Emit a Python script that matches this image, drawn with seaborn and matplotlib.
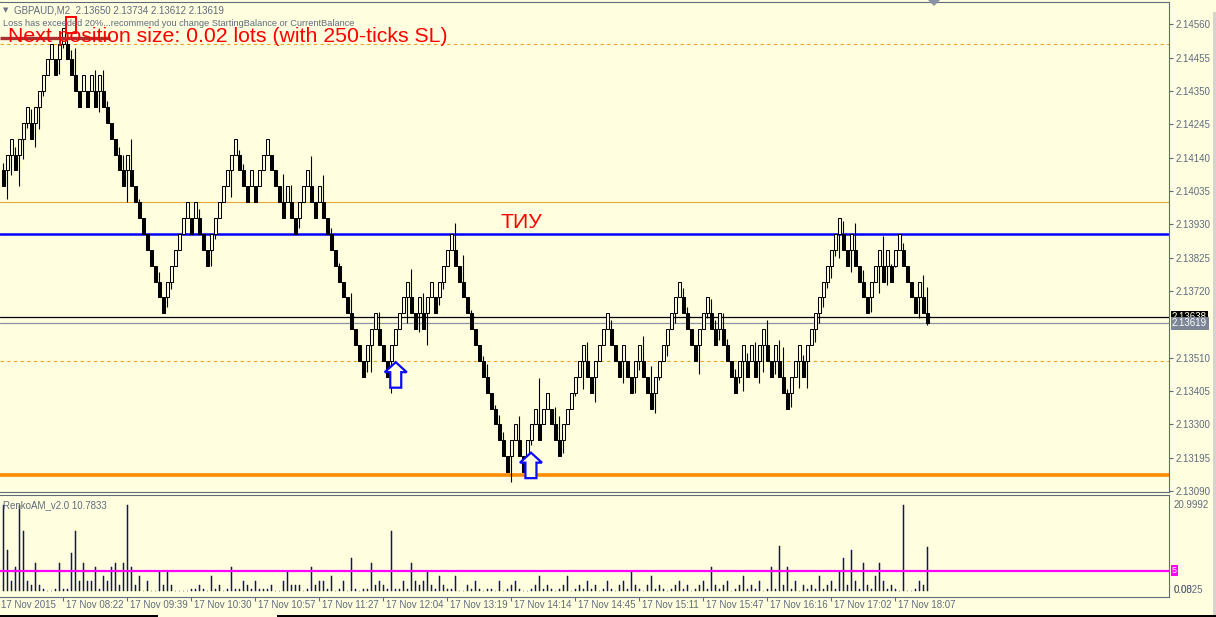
import numpy as np
import matplotlib
matplotlib.use("Agg")
import matplotlib.pyplot as plt
import matplotlib.transforms as mtransforms
from matplotlib.patches import Polygon, Rectangle
import seaborn as sns

# ---------------- data ----------------
symbol_header = "GBPAUD,M2  2.13650 2.13734 2.13612 2.13619"
warning_text = "Loss has exceeded 20%...recommend you change StartingBalance or CurrentBalance"
size_text = "Next position size: 0.02 lots (with 250-ticks SL)"
zone_label = "ТИУ"
indicator_name = "RenkoAM_v2.0 10.7833"

brick_size = 0.0005
base_price = 2.1300
brick_low = [21, 22, 23, 22, 23, 24, 25, 24, 25, 26, 27, 28, 29, 28, 29, 30, 29, 28, 27, 26,
             27, 26, 27, 26, 27, 26, 25, 24, 23, 22, 21, 22, 21, 20, 19, 18, 17, 16, 15, 14,
             13, 14, 15, 16, 17, 18, 19, 18, 19, 18, 17, 16, 17, 18, 19, 20, 21, 22, 23, 22,
             21, 20, 21, 20, 21, 22, 23, 22, 21, 20, 19, 20, 19, 18, 19, 20, 21, 20, 19, 20,
             19, 18, 17, 16, 15, 14, 13, 12, 11, 10, 9, 10, 11, 12, 11, 10, 9, 10, 11, 12,
             13, 14, 13, 12, 13, 12, 13, 14, 13, 14, 15, 16, 17, 16, 15, 14, 13, 12,
             11, 10, 9, 8, 7, 6, 5, 4, 3, 4, 5, 4, 3, 4, 5, 6, 5, 6, 7, 6, 5, 4, 5, 6, 7, 8,
             9, 10, 9, 8, 9, 10, 11, 12, 11, 10, 9, 10, 9, 8, 9, 10, 9, 8, 7, 8, 9, 10, 11, 12,
             13, 14, 13, 12, 11, 10, 11, 12, 13,
             12, 11, 12, 11, 10, 9, 8, 9, 10, 9, 10, 9, 10, 11, 10, 9, 10, 9, 8, 7, 8, 9, 10, 9,
             10, 11, 12, 13, 14, 15, 16, 17, 18, 17, 16, 17, 16, 15, 14, 13, 14, 15, 16, 15, 16,
             15, 16, 17, 16, 15, 14, 13, 14, 13]
brick_dir = ("DUUDUUUDUU" "UUUDUUDDDD" "UDUDUDDDDD" "DUDDDDDDDD" "DUUUUUUDUD" "DDUUUUUUUD"
             "DDUDUUUDDD" "DUDDUUUDDU" "DDDDDDDDDD" "DUUUDDDUUU" "UUDDUDUUDU" "UUUDDDDDDD"
             "DDDDDDDUUD" "DUUUDUUDDD" "UUUUUUDDUU" "UUDDDUDDUU" "DDDUUUUUUU" "DDDDUUUDDU"
             "DDDDUUDUDU" "UDDUDDDUUU" "DUUUUUUUUU" "DDUDDDDUUU" "DUDUUDDDDU" "D")
wick_bricks = [0.5, 1.8, 1.3, 0.5, 2.0, 1.3, 0.3, 0.9, 1.5, 1.4, 0.3, 0, 0, 0, 0.9, 0.3, 0.3, 0.6, 1.7, 0,
               0, 0, 0, 1.3, 1.3, 1.3, 0.4, 0, 0, 0.5, 1.0, 2.0, 2.0, 0, 0.2, 0, 0, 0, 0, 0.6,
               0, 0.6, 0.5, 0, 0, 0, 0, 0, 0, 0.6, 0, 0, 1.0, 0.3, 0, 0, 0, 1.7, 0, 0.3,
               0.4, 0, 0, 0, 0, 0, 0, 0, 0, 0, 1.8, 0, 1.1, 0, 0.6, 0, 0, 1.9, 0, 0,
               1.7, 0, 0.4, 0, 0.2, 0, 0, 1.3, 0, 0, 0, 0.7, 1.7, 0, 1.1, 0, 0, 2.0, 0, 0,
               0, 1.6, 1.8, 0, 1.2, 1.3, 2.0, 0, 0, 0.5, 0.5, 0, 0, 1.7, 0, 1.7, 0, 0.2, 0, 0,
               0.3, 0.8, 0, 0.2, 0.6, 0.5, 0, 1.6, 0, 1.5, 0, 0, 0.3, 0, 2.9, 0, 0, 0, 1.1, 1.5,
               0.8, 0, 0, 0.2, 0, 1.8, 1.2, 0, 1.6, 0, 0, 0, 0.6, 0, 0, 1.4, 0, 0, 1.0, 0.6,
               1.6, 0, 1.7, 1.3, 0.2, 0, 0.7, 0, 0.6, 0, 0.6, 0.4, 0, 0, 1.8, 0, 0.3, 0.9, 0.6, 0.7,
               1.0, 0.4, 0, 0.5, 0.4, 1.9, 0.5, 0, 1.2, 1.4, 1.7, 1.6, 0, 0.8, 1.3, 1.9, 0.2, 0.9, 0, 1.7,
               0.4, 1.7, 0, 0.8, 0.6, 0.6, 0.4, 0.8, 0.4, 1.5, 0.8, 0, 1.4, 1.7, 0, 0.7, 0, 0.9, 0, 1.7,
               1.9, 1.2, 0.1, 0.1, 0, 0.4, 0, 0, 0, 1.3, 1.4]
last_open, last_high, last_low, last_close = 2.13650, 2.13734, 2.13612, 2.13619

dashed_levels = [2.1450, 2.1350]
thin_level = 2.1400
blue_level = 2.1390
orange_level = 2.1314
ask_price = 2.13638
bid_price = 2.13619
trend_from, trend_to, trend_price = -0.8, 26.7, 2.14518
box_x0, box_x1, box_p0, box_p1 = 15.7, 18.2, 2.14533, 2.14584
arrow_bars = [98.1, 131.9]
arrow_tips = [2.13496, 2.13211]
zone_bar, zone_price = 124.2, 2.13935

price_ticks = [2.14560, 2.14455, 2.14350, 2.14245, 2.14140, 2.14035, 2.13930,
               2.13825, 2.13720, 2.13510, 2.13405, 2.13300, 2.13195, 2.13090]

indicator = [20.9, 10.1, 2.6, 6.0, 20.9, 14.5, 2.6, 1.6, 7.0, 1.6,
             0.6, 0, 0, 0.6, 7.0, 0.6, 0.6, 9.2, 14.5, 2.6,
             7.0, 2.6, 2.6, 6.0, 0.6, 3.8, 2.6, 6.0, 7.0, 1.6,
             7.0, 20.9, 6.0, 1.6, 3.8, 0, 2.6, 0, 0, 5.0,
             1.6, 5.0, 1.6, 0, 0, 0, 0, 0.6, 0.6, 1.6,
             0.6, 0, 3.8, 0.6, 1.6, 0, 0.6, 6.0, 0.6, 0.6,
             2.6, 1.6, 0.6, 2.6, 0.6, 0.6, 0.6, 1.6, 0, 0,
             2.6, 5.0, 1.6, 1.6, 1.6, 0, 0.6, 6.0, 1.6, 2.6,
             2.6, 0.6, 3.8, 0, 0.6, 2.6, 0, 8.0, 0.6, 0,
             0.6, 0.6, 7.0, 1.6, 2.6, 1.6, 0.6, 14.5, 0.6, 0.6,
             2.6, 0.6, 7.0, 2.6, 1.6, 2.6, 5.0, 1.6, 0.6, 3.8,
             1.6, 0.6, 0.6, 3.8, 0, 0, 1.6, 0.6, 2.6, 0.6,
             0, 0.6, 0.6, 0, 2.6, 0, 0.6, 1.6, 2.6, 0.6,
             0, 0, 0.6, 1.6, 3.8, 0.6, 1.6, 0.6, 0, 0.6,
             1.6, 3.8, 0, 0.6, 1.6, 0.6, 2.6, 0.6, 1.6, 0,
             0.6, 2.6, 0.6, 0, 1.6, 2.6, 0.6, 5.0, 1.6, 0.6,
             0, 1.6, 3.8, 0.6, 1.6, 0.6, 0, 0.6, 1.6, 2.6,
             0.6, 1.6, 0, 0.6, 1.6, 2.6, 0.6, 6.0, 1.6, 0.6,
             1.6, 2.6, 0, 0.6, 1.6, 3.8, 0.6, 1.6, 0.6, 2.6,
             0, 0.6, 6.0, 0.6, 11.0, 1.6, 6.0, 0.6, 2.6, 0,
             1.6, 0.6, 1.6, 0.6, 3.8, 0.6, 1.6, 2.6, 0.6, 5.0,
             8.0, 1.6, 10.0, 2.6, 0.6, 7.0, 1.6, 0.6, 3.8, 7.0,
             2.6, 0.6, 1.6, 0.6, 0, 21.0, 0, 0, 0.6, 2.6,
             1.6, 10.78]
indicator_level = 5
indicator_max_label = "20.9992"
indicator_min_labels = ["0.0825", "0.00"]

first_time_label = "17 Nov 2015"
time_tick_bars = [15, 31, 47, 63, 79, 95, 111, 127, 143, 159, 175, 191, 207, 223]
time_labels = ["17 Nov 08:22", "17 Nov 09:39", "17 Nov 10:30", "17 Nov 10:57", "17 Nov 11:27",
               "17 Nov 12:04", "17 Nov 13:19", "17 Nov 14:14", "17 Nov 14:45", "17 Nov 15:11",
               "17 Nov 15:47", "17 Nov 16:16", "17 Nov 17:02", "17 Nov 18:07"]

# ---------------- style ----------------
W, H, DPI = 1216, 617, 100
BG = "#FFFFE0"
AXC = "#5f6a7d"
NAVY = "#14145a"

sns.set_theme(style="white", rc={"axes.facecolor": BG, "figure.facecolor": BG})
plt.rcParams["font.family"] = ["Liberation Sans", "DejaVu Sans"]

fig = plt.figure(figsize=(W / DPI, H / DPI), dpi=DPI, facecolor=BG)


def rect(left, top, right, bottom):
    return [left / W, 1 - bottom / H, (right - left) / W, (bottom - top) / H]


ax = fig.add_axes(rect(0, 2, 1169, 492))
ax2 = fig.add_axes(rect(0, 495, 1169, 597))
for a in (ax, ax2):
    a.set_facecolor(BG)
    for s in a.spines.values():
        s.set_color(AXC)
        s.set_linewidth(0.8)
    a.spines["left"].set_visible(False)

ax.set_xlim(-0.825, 291.4)
ax.set_ylim(2.130870, 2.146308)
ax2.set_xlim(-0.825, 291.4)

# ---------------- candles ----------------
n = len(brick_low)
xs = np.arange(n)
lows = base_price + np.array(brick_low) * brick_size
up = np.array([c == "U" for c in brick_dir])
wk = np.array(wick_bricks) * brick_size

ax.bar(xs[up], brick_size, bottom=lows[up], width=0.72, facecolor=BG,
       edgecolor="black", linewidth=0.75, zorder=4)
ax.bar(xs[~up], brick_size, bottom=lows[~up], width=0.72, facecolor="black",
       edgecolor="black", linewidth=0.75, zorder=4)
m = up & (wk > 0)
ax.vlines(xs[m], lows[m] - wk[m], lows[m], color="black", lw=0.8, zorder=3)
m = (~up) & (wk > 0)
ax.vlines(xs[m], lows[m] + brick_size, lows[m] + brick_size + wk[m], color="black", lw=0.8, zorder=3)
# current (forming) bar
ax.vlines([n], [last_low], [last_high], color="black", lw=0.8, zorder=3)
ax.bar([n], [last_open - last_close], bottom=[last_close], width=0.72, facecolor="black",
       edgecolor="black", linewidth=0.75, zorder=4)

# ---------------- level lines ----------------
for lv in dashed_levels:
    ax.axhline(lv, color="#f0a020", lw=0.8, ls=(0, (3, 3)), zorder=2)
ax.axhline(thin_level, color="#e4a43c", lw=0.8, zorder=2)
ax.axhline(blue_level, color="#0000ff", lw=1.8, zorder=2)
ax.axhline(orange_level, color="#ff8c00", lw=2.6, zorder=2)
ax.axhline(ask_price, color="black", lw=0.9, zorder=2)
ax.axhline(bid_price, color="#8a93a3", lw=0.9, zorder=2)
ax.hlines(trend_price, trend_from, trend_to, color="#a83232", lw=2.4, zorder=5)
ax.add_patch(Rectangle((box_x0, box_p0), box_x1 - box_x0, box_p1 - box_p0, fill=False,
                       edgecolor="#ff0000", lw=1.4, zorder=6))

# arrows (built in pixel offsets around the tip)
arrow_shape = np.array([[0, 0], [11, -10], [5.5, -10], [5.5, -25.5], [-5.5, -25.5],
                        [-5.5, -10], [-11, -10]])
inv = ax.transData.inverted()
for b, p in zip(arrow_bars, arrow_tips):
    tip = ax.transData.transform((b, p))
    verts = inv.transform(tip + arrow_shape)
    ax.add_patch(Polygon(verts, closed=True, facecolor=BG, edgecolor="#0a0aff",
                         lw=1.6, zorder=6, joinstyle="miter"))

ax.text(zone_bar, zone_price, zone_label, color="#ff0000", fontsize=15.3,
        ha="left", va="center", zorder=7)

# ---------------- price axis ----------------
ax.set_xticks([])
ax.set_yticks(price_ticks)
ax.yaxis.tick_right()
ax.set_yticklabels([f"{p:.5f}" for p in price_ticks])
ax.tick_params(axis="y", length=3, width=0.8, color=AXC, labelcolor=AXC,
               labelsize=7, pad=2, direction="out")

btrans = mtransforms.blended_transform_factory(fig.transFigure, ax.transData)
ax.text(1172 / W, ask_price, f"{ask_price:.5f}", transform=btrans, fontsize=7, color=BG,
        ha="left", va="center", zorder=10,
        bbox=dict(boxstyle="square,pad=0.15", fc="black", ec="none"))
ax.text(1172 / W, bid_price, f"{bid_price:.5f}", transform=btrans, fontsize=7, color="white",
        ha="left", va="center", zorder=11,
        bbox=dict(boxstyle="square,pad=0.15", fc="#7b8595", ec="none"))

# ---------------- indicator panel ----------------
sns.barplot(x=np.arange(len(indicator)), y=indicator, ax=ax2, native_scale=True,
            width=0.3, color=NAVY, saturation=1, errorbar=None,
            edgecolor=NAVY, linewidth=0.35)
ax2.set_xlim(-0.825, 291.4)
ax2.set_ylim(-1.33, 23.31)
ax2.set_xlabel("")
ax2.set_ylabel("")
ax2.axhline(indicator_level, color="#ff00ff", lw=1.6, zorder=5)
ax2.set_yticks([])
ax2.set_xticks(time_tick_bars)
ax2.set_xticklabels([])
ax2.tick_params(axis="x", length=3, width=0.8, color=AXC, direction="out", bottom=True)

btrans2 = mtransforms.blended_transform_factory(fig.transFigure, ax2.transData)
ax2.text(1174 / W, 21.0, indicator_max_label, transform=btrans2, fontsize=7, color=AXC,
         ha="left", va="center")
for lab in indicator_min_labels:
    ax2.text(1174 / W, 0.3, lab, transform=btrans2, fontsize=7, color=AXC,
             ha="left", va="center")
ax2.text(1172 / W, indicator_level, "5", transform=btrans2, fontsize=6.5, color="white",
         ha="left", va="center", zorder=10,
         bbox=dict(boxstyle="square,pad=0.12", fc="#ff00ff", ec="none"))
fig.text(3 / W, 1 - 505 / H, indicator_name, fontsize=7, color=AXC, ha="left", va="center")

ttrans = mtransforms.blended_transform_factory(ax2.transData, fig.transFigure)
ty = 1 - 605.5 / H
ax2.text(-0.6, ty, first_time_label, transform=ttrans, fontsize=7, color=AXC,
         ha="left", va="center")
for b, lab in zip(time_tick_bars, time_labels):
    ax2.text(b + 0.6, ty, lab, transform=ttrans, fontsize=7, color=AXC, ha="left", va="center")

# ---------------- header texts ----------------
fig.text(3 / W, 1 - 10.5 / H, "▼", fontsize=5, color="#6a7384", ha="left", va="center",
         family=["DejaVu Sans"])
fig.text(14 / W, 1 - 13.3 / H, symbol_header, fontsize=7, color=AXC, ha="left", va="baseline")
fig.text(3 / W, 1 - 26 / H, warning_text, fontsize=6.6, color=AXC, ha="left", va="baseline")
fig.text(8 / W, 1 - 41.7 / H, size_text, fontsize=15.3, color="#ff0000", ha="left",
         va="baseline", zorder=20)

# chart shift marker, scrollbar strip, bottom edge
fig.add_artist(Polygon([[928 / W, 1], [940 / W, 1], [934 / W, 1 - 6 / H]], closed=True,
                       transform=fig.transFigure, fc="#8a93a3", ec="none"))
fig.add_artist(Rectangle((1213 / W, 0), 3 / W, 1 - 12 / H, transform=fig.transFigure,
                         fc="#d6d3ce", ec="none"))
fig.add_artist(Rectangle((0, 0), 158 / W, 2 / H, transform=fig.transFigure, fc="black", ec="none"))
fig.add_artist(Rectangle((277 / W, 0), (1216 - 277) / W, 2 / H, transform=fig.transFigure,
                         fc="black", ec="none"))

fig.savefig("out.png", dpi=DPI, facecolor=BG)
